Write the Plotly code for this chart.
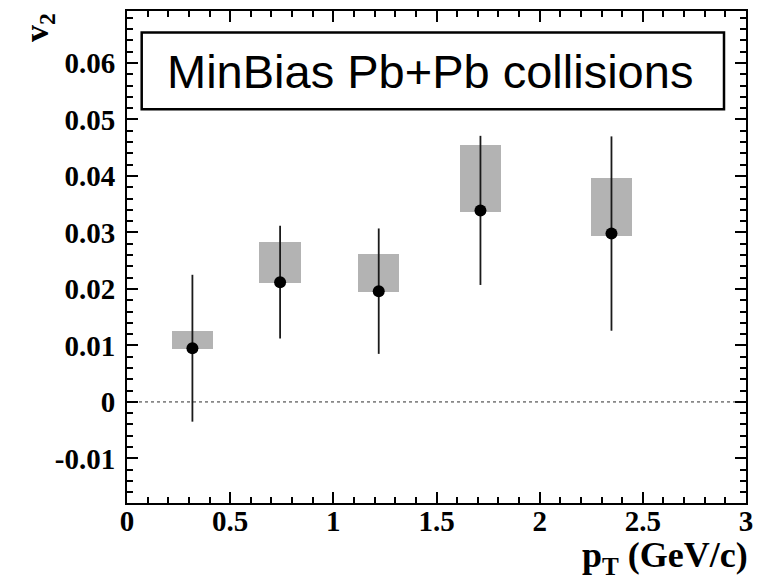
import plotly.graph_objects as go

# ---- data ----
pt = [0.317, 0.742, 1.220, 1.713, 2.348]
v2 = [0.0095, 0.0212, 0.0196, 0.0339, 0.0298]
stat_err = [0.0130, 0.0100, 0.0111, 0.0132, 0.0172]
sys_lo = [0.0093, 0.0210, 0.0194, 0.0336, 0.0294]
sys_hi = [0.0125, 0.0283, 0.0262, 0.0455, 0.0397]
sys_width = 0.2

x_tickvals = [0, 0.5, 1, 1.5, 2, 2.5, 3]
x_ticktext = ["0", "0.5", "1", "1.5", "2", "2.5", "3"]
y_tickvals = [-0.01, 0, 0.01, 0.02, 0.03, 0.04, 0.05, 0.06]
y_ticktext = ["-0.01", "0", "0.01", "0.02", "0.03", "0.04", "0.05", "0.06"]
x_range = [0, 3]
y_range = [-0.0179, 0.0692]
zero_level = 0

label_text = "MinBias Pb+Pb collisions"

W, H = 764, 579
ML, MR, MT, MB = 127, 18, 9, 76

fig = go.Figure()

# systematic-uncertainty boxes
fig.add_trace(go.Bar(
    x=pt,
    y=[h - l for h, l in zip(sys_hi, sys_lo)],
    base=sys_lo,
    width=sys_width,
    marker=dict(color="#b3b3b3", line=dict(width=0)),
    showlegend=False,
    hoverinfo="skip",
))

# data points with statistical error bars
fig.add_trace(go.Scatter(
    x=pt, y=v2, mode="markers",
    marker=dict(color="black", size=12),
    error_y=dict(type="data", array=stat_err, visible=True,
                 width=0, thickness=1.8, color="#1a1a1a"),
    showlegend=False,
))

# dotted zero line
fig.add_shape(type="line", xref="x", yref="y",
              x0=x_range[0], x1=x_range[1], y0=zero_level, y1=zero_level,
              line=dict(color="#888888", width=1.6, dash="dot"), layer="below")

tickfont = dict(family="Liberation Serif", size=29, color="black", weight="bold")

fig.update_xaxes(
    range=x_range, tickmode="array", tickvals=x_tickvals, ticktext=x_ticktext,
    ticks="inside", ticklen=11, tickwidth=2, tickcolor="black",
    showline=True, linecolor="black", linewidth=2, mirror="allticks",
    showgrid=False, zeroline=False, tickfont=tickfont, ticklabelstandoff=-9,
    minor=dict(tickmode="linear", tick0=0, dtick=0.1, ticks="inside",
               ticklen=6, tickwidth=1.6, tickcolor="black", showgrid=False),
)
fig.update_yaxes(
    range=y_range, tickmode="array", tickvals=y_tickvals, ticktext=y_ticktext,
    ticks="inside", ticklen=11, tickwidth=2, tickcolor="black",
    showline=True, linecolor="black", linewidth=2, mirror="allticks",
    showgrid=False, zeroline=False, tickfont=tickfont, ticklabelstandoff=4,
    minor=dict(tickmode="linear", tick0=0, dtick=0.002, ticks="inside",
               ticklen=6, tickwidth=1.6, tickcolor="black", showgrid=False),
)

pw = W - ML - MR
ph = H - MT - MB

def px_x(p):
    return (p - ML) / pw

def px_y(p):
    return (H - MB - p) / ph

# label box
fig.add_shape(type="rect", xref="paper", yref="paper",
              x0=px_x(141.7), x1=px_x(724), y0=px_y(107.7), y1=px_y(30.7),
              line=dict(color="black", width=2.5), fillcolor="white", layer="above")
fig.add_annotation(text=label_text, xref="paper", yref="paper",
                   x=px_x(430), y=px_y(69.5), xanchor="center", yanchor="middle",
                   showarrow=False,
                   font=dict(family="Liberation Sans", size=47, color="black"))

# axis titles
fig.add_annotation(text="v<sub>2</sub>", xref="paper", yref="paper",
                   x=px_x(39), y=px_y(25), xanchor="center", yanchor="middle",
                   textangle=-90, showarrow=False,
                   font=dict(family="Liberation Serif", size=34, color="black", weight="bold"))
fig.add_annotation(text="p<sub>T</sub> (GeV/c)", xref="paper", yref="paper",
                   x=px_x(750), y=px_y(558), xanchor="right", yanchor="middle",
                   showarrow=False,
                   font=dict(family="Liberation Serif", size=36, color="black", weight="bold"))

fig.update_layout(
    width=W, height=H,
    margin=dict(l=ML, r=MR, t=MT, b=MB),
    paper_bgcolor="white", plot_bgcolor="white",
    barmode="overlay", bargap=0,
)

fig.write_html("out.html")
